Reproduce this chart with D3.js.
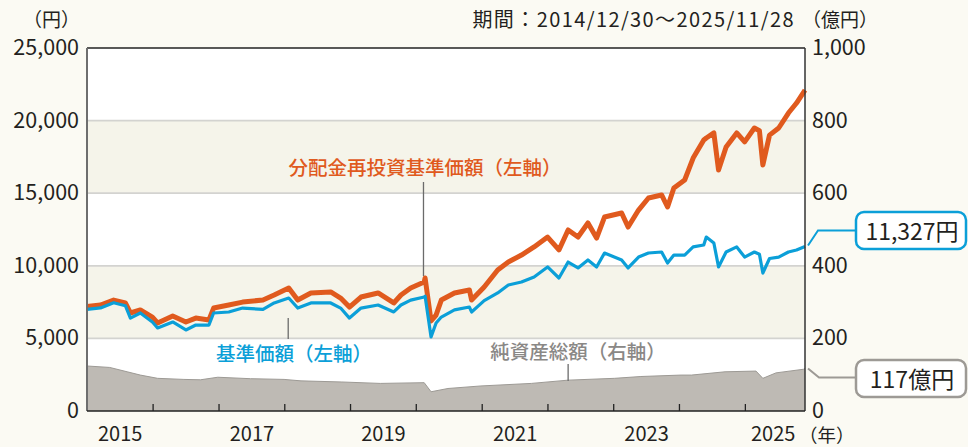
<!DOCTYPE html>
<html>
<head>
<meta charset="utf-8">
<script src="https://cdn.jsdelivr.net/npm/d3@7"></script>
<style>
  html, body { margin: 0; padding: 0; background: #fbfaf3; }
  svg { display: block; font-family: "Noto Sans CJK JP", "Noto Sans", sans-serif; }
</style>
</head>
<body>
<svg id="chart" width="968" height="447"></svg>
<script>
// ---------- data ----------
const navDates = [
  "2014-12-30","2015-03-15","2015-05-27","2015-07-31","2015-08-28","2015-10-22","2015-12-28",
  "2016-01-26","2016-04-19","2016-07-01","2016-08-25","2016-11-06","2016-12-02",
  "2017-02-24","2017-05-12","2017-09-02","2017-11-03",
  "2018-01-23","2018-03-14","2018-05-26","2018-09-13","2018-11-07","2018-12-26",
  "2019-02-28","2019-06-03","2019-08-29","2019-10-08","2019-12-01",
  "2020-02-14","2020-02-19","2020-03-23","2020-04-20","2020-05-19","2020-07-31","2020-10-22","2020-11-03",
  "2021-01-12","2021-03-28","2021-05-26","2021-08-07","2021-10-16","2021-12-30",
  "2022-03-03","2022-04-23","2022-06-17","2022-08-11","2022-09-28","2022-11-11",
  "2023-02-14","2023-03-22","2023-05-19","2023-07-13","2023-09-24","2023-10-27","2023-12-01",
  "2024-01-30","2024-03-17","2024-05-15","2024-05-29","2024-07-10","2024-08-05","2024-09-16","2024-11-14","2024-12-28",
  "2025-02-20","2025-03-20","2025-04-08","2025-05-15","2025-07-05","2025-08-28","2025-10-12","2025-11-28"
];
// 分配金再投資基準価額 (円)
const navReinvested = [
  7200, 7300, 7640, 7440, 6750, 6960, 6470,
  6060, 6540, 6130, 6400, 6270, 7090,
  7300, 7500, 7650, 7990,
  8470, 7640, 8130, 8200, 7780, 7160,
  7850, 8130, 7440, 7990, 8470,
  8880, 9160, 6200, 6610, 7640, 8130, 8330, 7640,
  8540, 9710, 10260, 10740, 11300, 11980,
  11090, 12470, 11980, 12950, 11910, 13360,
  13640, 12670, 13840, 14670, 14880, 14050, 15360,
  15910, 17420, 18660, 18800, 19150, 16600, 18180, 19150, 18530,
  19490, 19300, 16940, 19000, 19490, 20520, 21210, 22100
];
// 基準価額 (円)
const nav = [
  7000, 7100, 7460, 7250, 6400, 6750, 6130,
  5720, 6130, 5580, 5920, 5920, 6750,
  6820, 7090, 7000, 7440,
  7780, 7090, 7440, 7440, 7090, 6400,
  7090, 7300, 6820, 7300, 7640,
  7850, 7900, 5100, 6060, 6470, 6960, 7160, 6820,
  7600, 8130, 8680, 8880, 9230, 9920,
  9160, 10260, 9850, 10400, 9920, 10880,
  10400, 9850, 10600, 10880, 10950, 10190, 10740,
  10740, 11300, 11430, 11980, 11570, 9920, 10950, 11300, 10600,
  10950, 10800, 9500, 10500, 10600, 10950, 11090, 11327
];
// 純資産総額 (億円)
const aumDates = [
  "2014-12-30","2015-05-05","2015-08-10","2015-10-22","2016-01-26","2016-06-20","2016-09-20","2016-12-25",
  "2017-06-25","2017-12-28","2018-04-01","2018-11-10","2019-06-15","2020-02-14","2020-03-23","2020-06-25",
  "2020-12-25","2021-10-01","2022-04-23","2023-01-05","2023-06-01","2024-01-10","2024-03-08","2024-09-10",
  "2025-03-01","2025-04-08","2025-06-20","2025-11-20","2025-11-28"
];
const aum = [
  124, 120, 108, 99, 90, 87, 86, 93,
  89, 87, 83, 80, 76, 78, 53, 62,
  69, 76, 85, 90, 95, 99, 99, 108,
  110, 90, 105, 115, 117
];

const leftTicks = [0, 5000, 10000, 15000, 20000, 25000];
const rightTicks = [0, 200, 400, 600, 800, 1000];
const tickYears = [2016, 2017, 2018, 2019, 2020, 2021, 2022, 2023, 2024, 2025];
const labelYears = [2015, 2017, 2019, 2021, 2023, 2025];

const lastNav = "11,327円";
const lastAum = "117億円";
const period = "期間：2014/12/30～2025/11/28";

// ---------- layout ----------
const parse = d3.timeParse("%Y-%m-%d");
const start = parse("2014-12-30"), end = parse("2025-11-28");
const plot = {left: 87, right: 805, top: 48, bottom: 411};

const x = d3.scaleTime().domain([start, end]).range([plot.left, plot.right]);
const y = d3.scaleLinear().domain([0, 25000]).range([plot.bottom, plot.top]);
const y2 = d3.scaleLinear().domain([0, 1000]).range([plot.bottom, plot.top]);

const svg = d3.select("#chart");

const navData = navDates.map((d, i) => ({date: parse(d), re: navReinvested[i], nav: nav[i]}));
const aumData = aumDates.map((d, i) => ({date: parse(d), v: aum[i]}));

// plot background + bands
svg.append("rect")
    .attr("x", plot.left).attr("y", plot.top)
    .attr("width", plot.right - plot.left).attr("height", plot.bottom - plot.top)
    .attr("fill", "#ffffff");

[[5000, 10000], [15000, 20000]].forEach(b => {
    svg.append("rect")
        .attr("x", plot.left).attr("y", y(b[1]))
        .attr("width", plot.right - plot.left).attr("height", y(b[0]) - y(b[1]))
        .attr("fill", "#f5f4ea");
});

svg.append("g").selectAll("line")
    .data(leftTicks.slice(1, -1))
    .enter().append("line")
    .attr("x1", plot.left).attr("x2", plot.right)
    .attr("y1", d => y(d)).attr("y2", d => y(d))
    .attr("stroke", "#d3d3d0")
    .attr("stroke-width", 1.8);

// net assets area
const area = d3.area()
    .x(d => x(d.date))
    .y0(y2(0))
    .y1(d => y2(d.v));
svg.append("path")
    .datum(aumData)
    .attr("d", area)
    .attr("fill", "#bebab4");
svg.append("path")
    .datum(aumData)
    .attr("d", d3.line().x(d => x(d.date)).y(d => y2(d.v)))
    .attr("fill", "none")
    .attr("stroke", "#9d9a95")
    .attr("stroke-width", 1);

// lines
svg.append("path")
    .datum(navData)
    .attr("d", d3.line().x(d => x(d.date)).y(d => y(d.re)))
    .attr("fill", "none")
    .attr("stroke", "#e05a1e")
    .attr("stroke-width", 5)
    .attr("stroke-linejoin", "round");

svg.append("path")
    .datum(navData)
    .attr("d", d3.line().x(d => x(d.date)).y(d => y(d.nav)))
    .attr("fill", "none")
    .attr("stroke", "#0b9fd8")
    .attr("stroke-width", 3.2)
    .attr("stroke-linejoin", "round");

// frame
svg.append("line").attr("x1", plot.left).attr("x2", plot.right).attr("y1", plot.top).attr("y2", plot.top)
    .attr("stroke", "#222").attr("stroke-width", 1.5);
svg.append("line").attr("x1", plot.right).attr("x2", plot.right).attr("y1", plot.top).attr("y2", plot.bottom)
    .attr("stroke", "#333").attr("stroke-width", 1.5);
svg.append("line").attr("x1", plot.left).attr("x2", plot.left).attr("y1", plot.top).attr("y2", plot.bottom)
    .attr("stroke", "#6e6e6e").attr("stroke-width", 2);
svg.append("line").attr("x1", plot.left).attr("x2", plot.right).attr("y1", plot.bottom).attr("y2", plot.bottom)
    .attr("stroke", "#222").attr("stroke-width", 1.5);

// x ticks (inside, upward)
svg.append("g").selectAll("line")
    .data(tickYears)
    .enter().append("line")
    .attr("x1", d => x(new Date(d, 0, 1))).attr("x2", d => x(new Date(d, 0, 1)))
    .attr("y1", plot.bottom).attr("y2", plot.bottom - 7)
    .attr("stroke", "#222").attr("stroke-width", 1.3);

const textColor = "#231f20";
svg.append("g").selectAll("text")
    .data(labelYears)
    .enter().append("text")
    .attr("x", d => {
        const a = Math.max(x(new Date(d, 0, 1)), plot.left);
        const b = Math.min(x(new Date(d + 1, 0, 1)), plot.right);
        return (a + b) / 2 - (d === 2025 ? 2 : 0);
    })
    .attr("y", 441)
    .attr("text-anchor", "middle")
    .attr("fill", textColor)
    .style("font-size", "20px")
    .text(d => d);
svg.append("text").attr("x", 799).attr("y", 442).attr("fill", textColor)
    .style("font-size", "18.5px").text("（年）");

// left axis labels
svg.append("g").selectAll("text")
    .data(leftTicks)
    .enter().append("text")
    .attr("x", 79).attr("y", d => y(d) + 7)
    .attr("text-anchor", "end")
    .attr("fill", textColor)
    .style("font-size", "21.5px")
    .text(d => d3.format(",")(d));
svg.append("text").attr("x", 80).attr("y", 27).attr("text-anchor", "end").attr("fill", textColor)
    .style("font-size", "19px").text("（円）");

// right axis labels
svg.append("g").selectAll("text")
    .data(rightTicks)
    .enter().append("text")
    .attr("x", 812).attr("y", d => y2(d) + 7)
    .attr("fill", textColor)
    .style("font-size", "21.5px")
    .text(d => d3.format(",")(d));
svg.append("text").attr("x", 802).attr("y", 27).attr("fill", textColor)
    .style("font-size", "19px").text("（億円）");

svg.append("text").attr("x", 795).attr("y", 27).attr("text-anchor", "end").attr("fill", textColor)
    .style("font-size", "20px").style("letter-spacing", "1.4px").text(period);

// series labels with leader lines
function leader(x0, y0, y1) {
    svg.append("line").attr("x1", x0).attr("x2", x0).attr("y1", y0).attr("y2", y1)
        .attr("stroke", "#6b6b6b").attr("stroke-width", 1.3);
}
leader(x(parse("2020-02-10")), 182, 276);
svg.append("text").attr("x", 425).attr("y", 175).attr("text-anchor", "middle")
    .attr("fill", "#e05a1e").style("font-size", "19.5px").style("font-weight", 500)
    .text("分配金再投資基準価額（左軸）");

leader(x(parse("2018-01-20")), 318, 339);
svg.append("text").attr("x", 294).attr("y", 361).attr("text-anchor", "middle")
    .attr("fill", "#0b9fd8").style("font-size", "19.5px").style("font-weight", 500)
    .text("基準価額（左軸）");

leader(x(parse("2022-04-23")), 364, 381);
svg.append("text").attr("x", 578).attr("y", 359).attr("text-anchor", "middle")
    .attr("fill", "#8a8886").style("font-size", "19.5px").style("font-weight", 500)
    .text("純資産総額（右軸）");

// end-value callouts
const lastN = navData[navData.length - 1];
const lastA = aumData[aumData.length - 1];
const nx = x(lastN.date), ny = y(lastN.nav);
svg.append("path")
    .attr("d", `M${nx + 3},${ny - 1} L${nx + 13},${ny - 16} L857,${ny - 16}`)
    .attr("fill", "none").attr("stroke", "#0b9fd8").attr("stroke-width", 2);
svg.append("rect").attr("x", 856).attr("y", 212).attr("width", 110).attr("height", 37).attr("rx", 8)
    .attr("fill", "#ffffff").attr("stroke", "#0b9fd8").attr("stroke-width", 2.5);
svg.append("text").attr("x", 912).attr("y", 240).attr("text-anchor", "middle").attr("fill", textColor)
    .style("font-size", "23px").text(lastNav);

const ax = x(lastA.date), ay = y2(lastA.v);
svg.append("path")
    .attr("d", `M${ax + 3},${ay} L${ax + 14},${ay + 9} L857,${ay + 9}`)
    .attr("fill", "none").attr("stroke", "#9d9a95").attr("stroke-width", 2);
svg.append("rect").attr("x", 856).attr("y", 360).attr("width", 110).attr("height", 37).attr("rx", 8)
    .attr("fill", "#ffffff").attr("stroke", "#9d9a95").attr("stroke-width", 2.5);
svg.append("text").attr("x", 912).attr("y", 388).attr("text-anchor", "middle").attr("fill", textColor)
    .style("font-size", "23px").text(lastAum);
</script>
</body>
</html>
